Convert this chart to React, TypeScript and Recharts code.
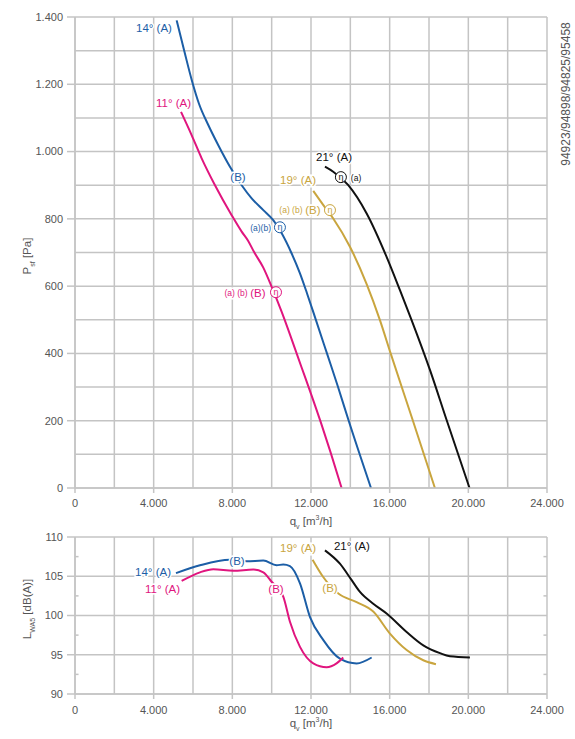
import React from 'react';
import { LineChart, Line, XAxis, YAxis, CartesianGrid, ReferenceDot, ReferenceLine } from 'recharts';

const BLUE = '#1c5ea6';
const MAGENTA = '#e0157e';
const GOLD = '#c9a53e';
const BLACK = '#111111';
const GRID = '#c4c4c4';
const TEXT = '#555555';
const FONT = '"Liberation Sans", Arial, sans-serif';

// axis ticks
const qTicks = [0, 4000, 8000, 12000, 16000, 20000, 24000];
const qGrid = [0, 2000, 4000, 6000, 8000, 10000, 12000, 14000, 16000, 18000, 20000, 22000, 24000];
const pTicks = [0, 200, 400, 600, 800, 1000, 1200, 1400];
const pGrid = [0, 100, 200, 300, 400, 500, 600, 700, 800, 900, 1000, 1100, 1200, 1300, 1400];
const lTicks = [90, 95, 100, 105, 110];
const lMinor = [92.5, 97.5, 102.5, 107.5];

// static pressure curves [q, Pa]
const pressure14 = [
    [5170, 1390], [5560, 1298], [5963, 1207], [6300, 1143], [6777, 1079], [7286, 1019],
    [7880, 955], [8475, 900], [8983, 861], [9575, 826], [10080, 796], [10510, 757],
    [11017, 697], [11439, 638], [11795, 579], [12252, 499], [12812, 400], [13371, 301],
    [13905, 202], [15050, 0],
];
const pressure11 = [
    [5390, 1118], [5930, 1049], [6440, 980], [7118, 900], [7965, 811], [8475, 762],
    [8800, 735], [9100, 702], [9575, 655], [10000, 598], [10500, 525], [11000, 445],
    [11500, 362], [12000, 280], [12500, 195], [13000, 105], [13557, 0],
];
const pressure19 = [
    [12115, 883], [12600, 843], [13130, 801], [13980, 717], [14830, 606], [15505, 499],
    [16050, 400], [17170, 202], [18300, 0],
];
const pressure21 = [
    [12710, 955], [13130, 940], [13895, 900], [14830, 816], [15844, 687], [16523, 588],
    [17115, 499], [18048, 351], [18896, 202], [20060, 0],
];

// sound power curves [q, dB(A)]
const sound14 = [
    [5135, 105.4], [6355, 106.4], [7880, 107.1], [8730, 106.9], [9575, 107.0], [10250, 106.4],
    [10590, 106.5], [10930, 106.3], [11440, 104.1], [11950, 99.8], [12620, 96.9], [13470, 94.5],
    [14320, 93.9], [15085, 94.65],
];
const sound11 = [
    [5423, 104.4], [6355, 105.5], [7033, 105.9], [8050, 105.7], [9065, 105.85], [9575, 105.5],
    [9998, 104.3], [10590, 102.4], [10930, 99.2], [11440, 96.0], [12115, 93.9], [12795, 93.4],
    [13300, 93.9], [13640, 94.65],
];
const sound19 = [
    [12080, 107.1], [12620, 104.9], [13390, 102.8], [14320, 101.7], [15165, 100.5], [16014, 97.7],
    [16863, 95.6], [17710, 94.3], [18353, 93.8],
];
const sound21 = [
    [12710, 108.3], [13470, 106.6], [14068, 104.5], [14490, 103.0], [15165, 101.5], [15844, 100.25],
    [16863, 97.9], [17710, 96.2], [18556, 95.2], [19065, 94.8], [20080, 94.65],
];

type Note = { q: number; v: number; text?: string; color: string; small?: boolean; eta?: boolean; anchor?: 'start' | 'middle' | 'end' };

const pressureNotes: Note[] = [
    { q: 4930, v: 1367, text: '14° (A)', color: BLUE, anchor: 'end' },
    { q: 5900, v: 1144, text: '11° (A)', color: MAGENTA, anchor: 'end' },
    { q: 8290, v: 924, text: '(B)', color: BLUE },
    { q: 9965, v: 772, text: '(a)(b)', color: BLUE, small: true, anchor: 'end' },
    { q: 10420, v: 775, eta: true, color: BLUE },
    { q: 8185, v: 579, text: '(a) (b)', color: MAGENTA, small: true },
    { q: 9300, v: 579, text: '(B)', color: MAGENTA },
    { q: 10220, v: 582, eta: true, color: MAGENTA },
    { q: 13170, v: 983, text: '21° (A)', color: BLACK },
    { q: 13520, v: 924, eta: true, color: BLACK },
    { q: 14290, v: 921, text: '(a)', color: BLACK, small: true },
    { q: 11340, v: 915, text: '19° (A)', color: GOLD },
    { q: 10980, v: 826, text: '(a) (b)', color: GOLD, small: true },
    { q: 12100, v: 826, text: '(B)', color: GOLD },
    { q: 12965, v: 826, eta: true, color: GOLD },
];

const soundNotes: Note[] = [
    { q: 4880, v: 105.6, text: '14° (A)', color: BLUE, anchor: 'end' },
    { q: 8236, v: 106.9, text: '(B)', color: BLUE },
    { q: 5340, v: 103.35, text: '11° (A)', color: MAGENTA, anchor: 'end' },
    { q: 10220, v: 103.35, text: '(B)', color: MAGENTA },
    { q: 11340, v: 108.6, text: '19° (A)', color: GOLD },
    { q: 14080, v: 108.8, text: '21° (A)', color: BLACK },
    { q: 12965, v: 103.5, text: '(B)', color: GOLD },
];

const toPts = (a: number[][]) => a.map(([q, v]) => ({ q, v }));
const fmt = (v: number) => String(v).replace(/\B(?=(\d{3})+(?!\d))/g, '.');

function NoteMark({ cx, cy, n }: { cx: number; cy: number; n: Note }) {
    if (n.eta) {
        return (
            <g>
                <circle cx={cx} cy={cy} r={5.5} fill="#fff" stroke={n.color} strokeWidth={1} />
                <text x={cx} y={cy} dy={3.2} textAnchor="middle" fontSize={9} fill={n.color} fontFamily={FONT}>η</text>
            </g>
        );
    }
    return (
        <text
            x={cx}
            y={cy}
            dy="0.35em"
            textAnchor={n.anchor ?? 'middle'}
            fontSize={n.small ? 8.5 : 11.5}
            fill={n.color}
            stroke="#fff"
            strokeWidth={3}
            paintOrder="stroke"
            fontFamily={FONT}
        >
            {n.text}
        </text>
    );
}

const tickStyle = { fill: TEXT, fontSize: 11, fontFamily: FONT };

function notes(list: Note[]) {
    return list.map((n, i) => (
        <ReferenceDot
            key={i}
            x={n.q}
            y={n.v}
            r={0}
            ifOverflow="visible"
            shape={(p: any) => <NoteMark cx={p.cx} cy={p.cy} n={n} />}
        />
    ));
}

function curve(data: number[][], color: string, key: string) {
    return (
        <Line
            key={key}
            data={toPts(data)}
            dataKey="v"
            type="monotone"
            stroke={color}
            strokeWidth={2}
            dot={false}
            isAnimationActive={false}
        />
    );
}

const abs = (left: number, top: number, rotate = false): React.CSSProperties => ({
    position: 'absolute',
    left,
    top,
    transform: `translate(-50%, -50%)${rotate ? ' rotate(-90deg)' : ''}`,
    whiteSpace: 'nowrap',
    fontFamily: FONT,
    fontSize: 11.5,
    color: TEXT,
    lineHeight: 1,
});

export default function App() {
    return (
        <div style={{ position: 'absolute', left: 0, top: 0, width: 575, height: 739, background: '#fff' }}>
            <div style={{ position: 'absolute', left: 0, top: 0 }}>
                <LineChart width={575} height={530} margin={{ top: 17, right: 28, bottom: 12, left: 30 }}>
                    <CartesianGrid stroke={GRID} strokeWidth={1.5} horizontalValues={pGrid} verticalValues={qGrid} />
                    <XAxis
                        type="number"
                        dataKey="q"
                        domain={[0, 24000]}
                        ticks={qTicks}
                        interval={0}
                        tickFormatter={fmt}
                        height={30}
                        tickSize={5}
                        tickMargin={6}
                        stroke={GRID}
                        strokeWidth={1.5}
                        tick={tickStyle}
                        allowDataOverflow
                    />
                    <YAxis
                        type="number"
                        domain={[0, 1400]}
                        ticks={pTicks}
                        interval={0}
                        tickFormatter={fmt}
                        width={45}
                        tickSize={8}
                        tickMargin={4}
                        stroke={GRID}
                        strokeWidth={1.5}
                        tick={tickStyle}
                    />
                    {curve(pressure14, BLUE, 'p14')}
                    {curve(pressure11, MAGENTA, 'p11')}
                    {curve(pressure19, GOLD, 'p19')}
                    {curve(pressure21, BLACK, 'p21')}
                    {notes(pressureNotes)}
                </LineChart>
            </div>
            <div style={{ position: 'absolute', left: 0, top: 520 }}>
                <LineChart width={575} height={219} margin={{ top: 17, right: 28, bottom: 15, left: 30 }}>
                    <CartesianGrid stroke={GRID} strokeWidth={1.5} horizontalValues={lTicks} verticalValues={qGrid} />
                    <XAxis
                        type="number"
                        dataKey="q"
                        domain={[0, 24000]}
                        ticks={qTicks}
                        interval={0}
                        tickFormatter={fmt}
                        height={30}
                        tickSize={5}
                        tickMargin={7}
                        stroke={GRID}
                        strokeWidth={1.5}
                        tick={tickStyle}
                        allowDataOverflow
                    />
                    <YAxis
                        type="number"
                        domain={[90, 110]}
                        ticks={lTicks}
                        interval={0}
                        width={45}
                        tickSize={8}
                        tickMargin={4}
                        stroke={GRID}
                        strokeWidth={1.5}
                        tick={tickStyle}
                    />
                    {lMinor.map((v) => (
                        <ReferenceLine key={`l${v}`} segment={[{ x: 0, y: v }, { x: 180, y: v }]} stroke={GRID} strokeWidth={1.5} />
                    ))}
                    {lMinor.map((v) => (
                        <ReferenceLine key={`r${v}`} segment={[{ x: 23820, y: v }, { x: 24000, y: v }]} stroke={GRID} strokeWidth={1.5} />
                    ))}
                    {curve(sound14, BLUE, 's14')}
                    {curve(sound11, MAGENTA, 's11')}
                    {curve(sound19, GOLD, 's19')}
                    {curve(sound21, BLACK, 's21')}
                    {notes(soundNotes)}
                </LineChart>
            </div>
            <div style={abs(311, 522)}>q<sub style={{ fontSize: 7 }}>v</sub> [m<sup style={{ fontSize: 7 }}>3</sup>/h]</div>
            <div style={abs(311, 724)}>q<sub style={{ fontSize: 7 }}>v</sub> [m<sup style={{ fontSize: 7 }}>3</sup>/h]</div>
            <div style={abs(29, 256, true)}>P<sub style={{ fontSize: 7 }}>sf</sub> [Pa]</div>
            <div style={abs(29, 609, true)}>L<sub style={{ fontSize: 7 }}>WA5</sub> [dB(A)]</div>
            <div style={{ ...abs(566, 94, true), fontSize: 12 }}>94923/94898/94825/95458</div>
        </div>
    );
}
